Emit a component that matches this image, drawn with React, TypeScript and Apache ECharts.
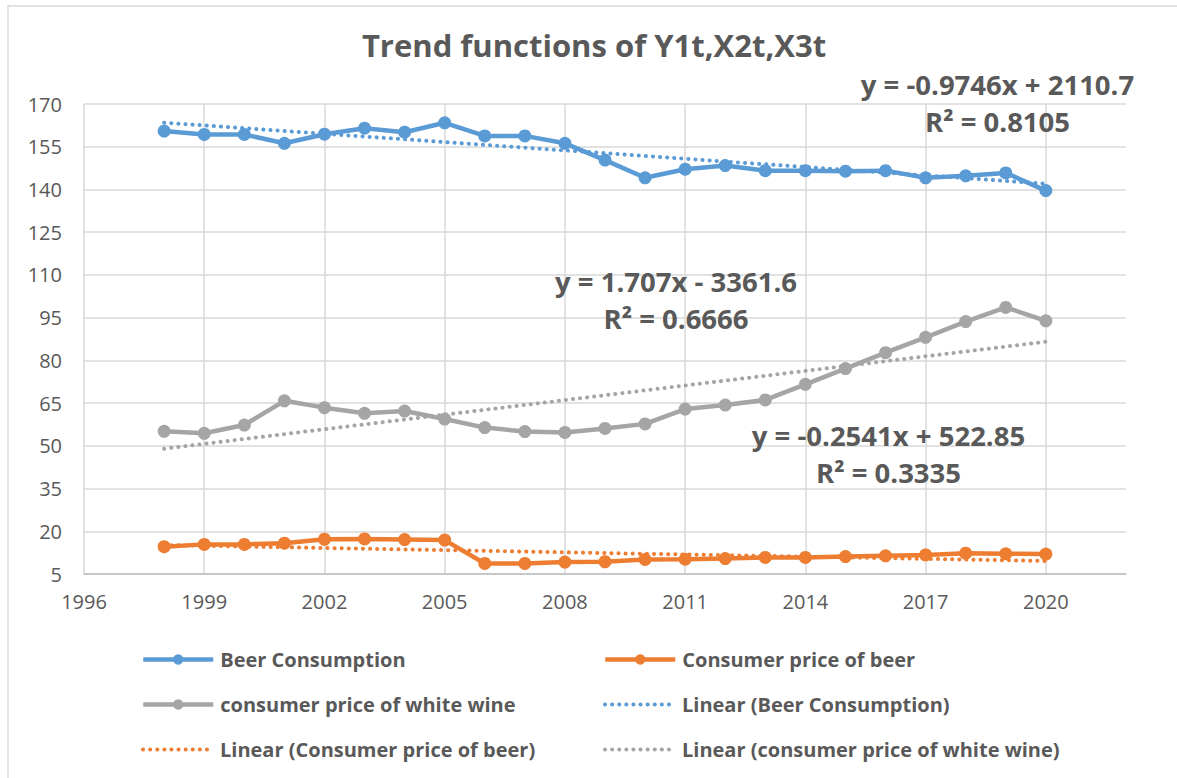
import React, { useEffect, useRef } from 'react';
import * as echarts from 'echarts';

const years = [1998, 1999, 2000, 2001, 2002, 2003, 2004, 2005, 2006, 2007, 2008, 2009, 2010, 2011, 2012, 2013, 2014, 2015, 2016, 2017, 2018, 2019, 2020];
const beerConsumption = [160.5, 159.3, 159.3, 156.2, 159.4, 161.5, 160.1, 163.4, 158.8, 158.8, 156.2, 150.3, 144.1, 147.1, 148.4, 146.6, 146.6, 146.4, 146.6, 144.1, 144.8, 145.8, 139.6];
const priceOfBeer = [14.6, 15.4, 15.4, 15.8, 17.2, 17.3, 17.1, 16.9, 8.7, 8.7, 9.2, 9.3, 10.1, 10.2, 10.4, 10.8, 10.8, 11.1, 11.4, 11.7, 12.3, 12.1, 12.0];
const priceOfWhiteWine = [55.1, 54.4, 57.3, 65.8, 63.4, 61.4, 62.2, 59.4, 56.4, 55.0, 54.7, 56.1, 57.7, 62.9, 64.3, 66.1, 71.6, 77.1, 82.7, 88.1, 93.6, 98.6, 93.9];

const trendYears = [1998, 2020];
const beerTrend = [163.45, 142.01];
const priceOfBeerTrend = [15.16, 9.57];
const whiteWineTrend = [48.99, 86.54];

const xTicks = [1996, 1999, 2002, 2005, 2008, 2011, 2014, 2017, 2020];
const yTicks = [5, 20, 35, 50, 65, 80, 95, 110, 125, 140, 155, 170];

const seriesNames = [
  'Beer Consumption',
  'Consumer price of beer',
  'consumer price of white wine',
  'Linear (Beer Consumption)',
  'Linear (Consumer price of beer)',
  'Linear (consumer price of white wine)',
];
const titleText = 'Trend functions of Y1t,X2t,X3t';
const equations = ['y = -0.9746x + 2110.7', 'y = 1.707x - 3361.6', 'y = -0.2541x + 522.85'];
const rSquared = ['R² = 0.8105', 'R² = 0.6666', 'R² = 0.3335'];

export default function App() {
  const ref = useRef<HTMLDivElement>(null);
  useEffect(() => {
    const chart = echarts.init(ref.current!, null, { renderer: 'svg' });
    const FONT = '"Open Sans", sans-serif';
    const TXT = '#595959';
    const BLUE = '#5B9BD5';
    const ORANGE = '#ED7D31';
    const GRAY = '#A5A5A5';
    const GRID = '#D9D9D9';
    const DOTS = [0.1, 7];
    const colors = [BLUE, ORANGE, GRAY, BLUE, ORANGE, GRAY];

    const lineSeries = (name: string, values: number[], color: string) => ({
      type: 'line',
      name,
      data: years.map((y, i) => [y, values[i]]),
      symbol: 'circle',
      symbolSize: 13,
      showSymbol: true,
      lineStyle: { color, width: 4.5 },
      itemStyle: { color },
      z: 2,
    });
    const trendSeries = (name: string, values: number[], color: string) => ({
      type: 'line',
      name,
      data: trendYears.map((y, i) => [y, values[i]]),
      symbol: 'circle',
      showSymbol: false,
      lineStyle: { color, width: 4, type: DOTS, cap: 'round' },
      itemStyle: { color },
      z: 3,
    });

    const legendPos = [
      [141, 656],
      [603, 656],
      [141, 701],
      [603, 701],
      [141, 746],
      [603, 746],
    ];
    const legends = seriesNames.map((n, i) => ({
      data: [n],
      left: legendPos[i][0],
      top: legendPos[i][1] - 6.5,
      padding: 0,
      itemWidth: 70,
      itemHeight: 13,
      selectedMode: false,
      itemStyle: i >= 3
        ? { opacity: 0, color: 'rgba(0,0,0,0)', borderWidth: 0 }
        : { color: colors[i], opacity: 1, borderWidth: 0 },
      lineStyle: i >= 3
        ? { color: colors[i], width: 4, type: DOTS, cap: 'round' }
        : { color: colors[i], width: 4.5 },
      textStyle: { fontFamily: FONT, fontWeight: 'bold', fontSize: 20, color: TXT, padding: [0, 0, 0, 2] },
    }));

    const eqPos = [
      [997.5, 84, 121],
      [676, 281, 318],
      [888.5, 435, 472],
    ];
    const textStyle = (text: string, size: number) => ({
      text, fontFamily: FONT, fontSize: size, fontWeight: 'bold', fill: TXT,
      align: 'center', verticalAlign: 'middle', textAlign: 'center', textVerticalAlign: 'middle',
    });
    const eqGraphics: any[] = [];
    equations.forEach((eq, i) => {
      eqGraphics.push({ type: 'text', x: eqPos[i][0], y: eqPos[i][1], z: 10, style: textStyle(eq, 27.5) });
      eqGraphics.push({ type: 'text', x: eqPos[i][0], y: eqPos[i][2], z: 10, style: textStyle(rSquared[i], 27.5) });
    });

    chart.setOption({
      animation: false,
      backgroundColor: '#ffffff',
      grid: { left: 84, top: 104, width: 1042, height: 470, outerBoundsMode: 'none', containLabel: false },
      xAxis: {
        type: 'value',
        min: 1996,
        max: 2022,
        axisLine: { show: true, lineStyle: { color: '#BFBFBF', width: 1.5 } },
        axisTick: { show: false, customValues: xTicks },
        axisLabel: { customValues: xTicks, formatter: (v: number) => String(v), fontFamily: FONT, fontSize: 20, color: TXT, margin: 17 },
        splitLine: { show: true, lineStyle: { color: GRID, width: 1.5 } },
      },
      yAxis: {
        type: 'value',
        min: 5,
        max: 170,
        axisLine: { show: false },
        axisTick: { show: false, customValues: yTicks },
        axisLabel: { customValues: yTicks, formatter: (v: number) => String(v), fontFamily: FONT, fontSize: 20, color: TXT, margin: 22 },
        splitLine: { show: true, lineStyle: { color: GRID, width: 1.5 } },
      },
      legend: legends,
      graphic: [
        {
          type: 'rect', shape: { x: 8, y: 6, width: 1400, height: 1000 }, silent: true, z: -10,
          style: { fill: 'none', stroke: GRID, lineWidth: 1.5 },
        },
        { type: 'text', x: 594, y: 45, z: 10, style: textStyle(titleText, 31) },
        ...eqGraphics,
      ],
      series: [
        lineSeries(seriesNames[0], beerConsumption, BLUE),
        lineSeries(seriesNames[1], priceOfBeer, ORANGE),
        lineSeries(seriesNames[2], priceOfWhiteWine, GRAY),
        trendSeries(seriesNames[3], beerTrend, BLUE),
        trendSeries(seriesNames[4], priceOfBeerTrend, ORANGE),
        trendSeries(seriesNames[5], whiteWineTrend, GRAY),
      ],
    });
    return () => chart.dispose();
  }, []);
  return <div ref={ref} style={{ position: 'fixed', left: 0, top: 0, width: 1177, height: 778 }} />;
}
